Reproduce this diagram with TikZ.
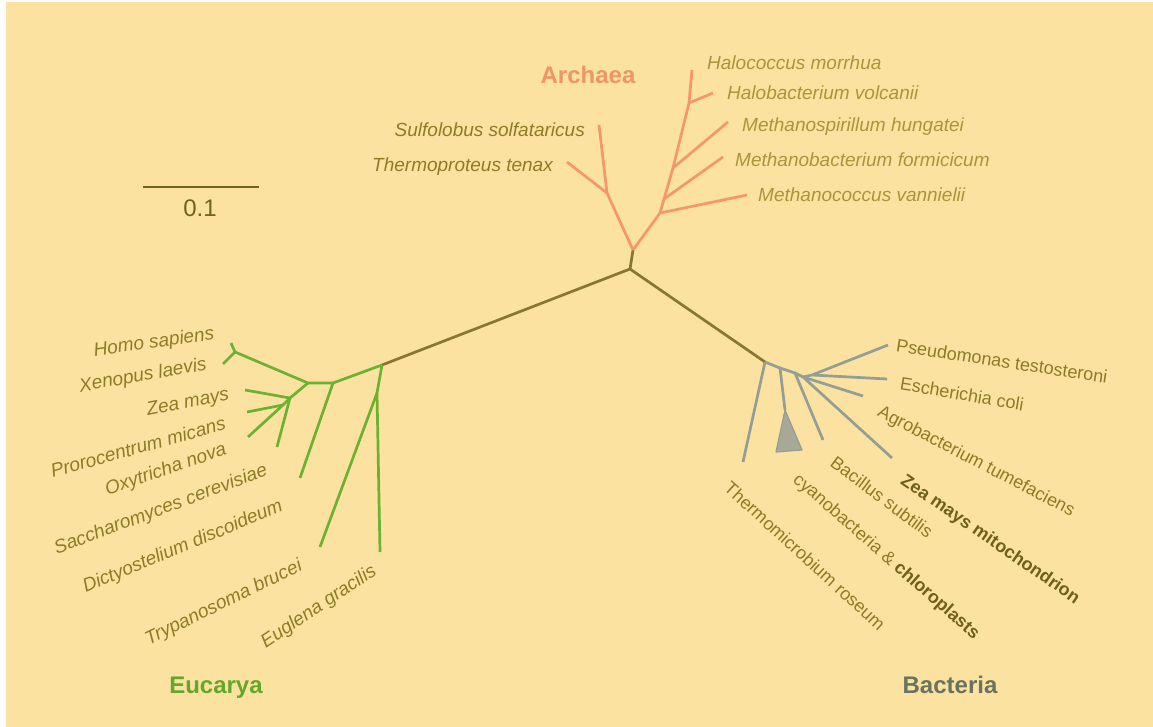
\documentclass[tikz,border=0pt]{standalone}
\usepackage{fontspec}
\setmainfont{Liberation Sans}
\definecolor{bgc}{RGB}{252,226,160}
\definecolor{stemc}{RGB}{135,118,52}
\definecolor{arcc}{RGB}{245,150,112}
\definecolor{eukc}{RGB}{108,178,48}
\definecolor{bacc}{RGB}{146,158,150}
\definecolor{trif}{RGB}{168,168,152}
\definecolor{txtc}{RGB}{140,124,38}
\definecolor{arctxt}{RGB}{172,148,58}
\definecolor{boldtxt}{RGB}{112,96,28}
\definecolor{arclab}{RGB}{240,148,108}
\definecolor{euklab}{RGB}{100,168,40}
\definecolor{baclab}{RGB}{104,115,96}
\definecolor{scalec}{RGB}{110,98,36}
\begin{document}
\begin{tikzpicture}[x=1pt,y=-1pt,
  br/.style={line width=2.7pt},
  stem/.style={br,draw=stemc},
  arcb/.style={br,draw=arcc},
  eukb/.style={br,draw=eukc},
  bacb/.style={br,draw=bacc},
  sp/.style={inner sep=0pt,text=txtc,font=\fontsize{19}{22}\selectfont\itshape},
  asp/.style={sp,text=arctxt},
  bsp/.style={inner sep=0pt,text=txtc,font=\fontsize{18}{21}\selectfont},
  grp/.style={inner sep=0pt,font=\fontsize{24}{28}\selectfont\bfseries}]
\useasboundingbox (0,0) rectangle (1153,727);
\fill[white] (0,0) rectangle (1153,727);
\fill[bgc] (6,2) rectangle (1153,727);
% scale bar
\coordinate (S1) at (143,187);
\coordinate (S2) at (259,187);
\draw[line width=2.4pt,draw=scalec] (S1) -- (S2);
\node[inner sep=0pt,text=scalec,font=\fontsize{24}{28}\selectfont] (scl) at (200,208) {0.1};
% internal coordinates
\coordinate (R) at (630,269);
\coordinate (A0) at (633,250);
\coordinate (A1) at (607,193);
\coordinate (AS) at (599,125);
\coordinate (AT) at (567,162);
\coordinate (A2) at (660,213);
\coordinate (A3) at (664,199);
\coordinate (A4) at (673,168);
\coordinate (A5) at (689,103);
\coordinate (Ahc) at (692,70);
\coordinate (Ahv) at (713,93);
\coordinate (Amh) at (728,122);
\coordinate (Amf) at (723,157);
\coordinate (Amv) at (747,195);
\coordinate (E0) at (382,365);
\coordinate (E1) at (377,393);
\coordinate (Eeg) at (380,552);
\coordinate (Etb) at (320,547);
\coordinate (E2) at (333,383);
\coordinate (Edd) at (300,478);
\coordinate (E3) at (308,383);
\coordinate (E4) at (235,352);
\coordinate (Ehs) at (231,343);
\coordinate (Exl) at (223,364);
\coordinate (E5) at (290,398);
\coordinate (Ezm) at (245,390);
\coordinate (Esc) at (277,447);
\coordinate (E6) at (283,405);
\coordinate (Epm) at (247,412);
\coordinate (Eon) at (248,437);
\coordinate (B0) at (765,362);
\coordinate (Btr) at (743,462);
\coordinate (B1) at (780,368);
\coordinate (Bcy) at (785,410);
\coordinate (Bt1) at (776,452);
\coordinate (Bt2) at (802,450);
\coordinate (B2) at (795,373);
\coordinate (Bbs) at (823,440);
\coordinate (B3) at (803,377);
\coordinate (Bzm) at (892,458);
\coordinate (Bat) at (863,396);
\coordinate (B4) at (812,375);
\coordinate (Bps) at (888,345);
\coordinate (Bec) at (887,379);
% main stems
\draw[stem] (R) -- (A0);
\draw[stem] (R) -- (E0);
\draw[stem] (R) -- (B0);
% Archaea
\draw[arcb] (A0) -- (A1) -- (AS);
\draw[arcb] (A1) -- (AT);
\draw[arcb] (A0) -- (A2) -- (A3) -- (A4) -- (A5) -- (Ahc);
\draw[arcb] (A2) -- (Amv);
\draw[arcb] (A3) -- (Amf);
\draw[arcb] (A4) -- (Amh);
\draw[arcb] (A5) -- (Ahv);
% Eucarya
\draw[eukb] (E0) -- (E1) -- (Eeg);
\draw[eukb] (E1) -- (Etb);
\draw[eukb] (E0) -- (E2) -- (Edd);
\draw[eukb] (E2) -- (E3) -- (E4) -- (Ehs);
\draw[eukb] (E4) -- (Exl);
\draw[eukb] (E3) -- (E5) -- (Ezm);
\draw[eukb] (E5) -- (Esc);
\draw[eukb] (E5) -- (E6) -- (Eon);
\draw[eukb] (E6) -- (Epm);
% Bacteria
\draw[bacb] (B0) -- (Btr);
\draw[bacb] (B0) -- (B1) -- (Bcy);
\draw[draw=bacc,line width=1.2pt,fill=trif,line join=round] (Bcy) -- (Bt1) -- (Bt2) -- cycle;
\draw[bacb] (B1) -- (B2) -- (Bbs);
\draw[bacb] (B2) -- (B3) -- (Bzm);
\draw[bacb] (B3) -- (Bat);
\draw[bacb] (B3) -- (B4) -- (Bps);
\draw[bacb] (B4) -- (Bec);
% group labels
\node[grp,text=arclab] (lA) at (588,75) {Archaea};
\node[grp,text=euklab] (lE) at (216,688) {Eucarya};
\node[grp,text=baclab] (lB) at (950,685) {Bacteria};
% Archaea species
\node[asp,anchor=west] (tHc) at (707,63) {Halococcus morrhua};
\node[asp,anchor=west] (tHv) at (727,93) {Halobacterium volcanii};
\node[asp,anchor=west] (tMh) at (742,127) {Methanospirillum hungatei};
\node[asp,anchor=west] (tMf) at (735,160) {Methanobacterium formicicum};
\node[asp,anchor=west] (tMv) at (758,195) {Methanococcus vannielii};
\node[sp,anchor=east] (tSs) at (585,130) {Sulfolobus solfataricus};
\node[sp,anchor=east] (tTt) at (553,167) {Thermoproteus tenax};
% Eucarya species
\node[sp,rotate=8] (tHs) at (154,343) {Homo sapiens};
\node[sp,rotate=10] (tXl) at (143,376) {Xenopus laevis};
\node[sp,rotate=11] (tZm) at (188,403) {Zea mays};
\node[sp,rotate=15.5] (tPm) at (138,447) {Prorocentrum micans};
\node[sp,rotate=19] (tOn) at (166,470) {Oxytricha nova};
\node[sp,rotate=20.5] (tSc) at (161,510) {Saccharomyces cerevisiae};
\node[sp,rotate=22.5] (tDd) at (183,547) {Dictyostelium discoideum};
\node[sp,rotate=26] (tTb) at (224,603) {Trypanosoma brucei};
\node[sp,rotate=33.5] (tEg) at (319,607) {Euglena gracilis};
% Bacteria species
\node[bsp,rotate=-8.6] (tPt) at (1002,361) {Pseudomonas testosteroni};
\node[bsp,rotate=-9.6] (tEc) at (962,394) {Escherichia coli};
\node[bsp,rotate=-27.5] (tAt) at (976,462) {Agrobacterium tumefaciens};
\node[bsp,rotate=-34.6,text=boldtxt,font=\fontsize{18}{21}\selectfont\bfseries] (tZmm) at (990,540) {Zea mays mitochondrion};
\node[bsp,rotate=-36.6] (tBs) at (882,497) {Bacillus subtilis};
\node[bsp,rotate=-41.2] (tCy) at (886,557) {cyanobacteria \& \textbf{\color{boldtxt}chloroplasts}};
\node[bsp,rotate=-42.4] (tTr) at (805,556) {Thermomicrobium roseum};
\end{tikzpicture}
\end{document}
